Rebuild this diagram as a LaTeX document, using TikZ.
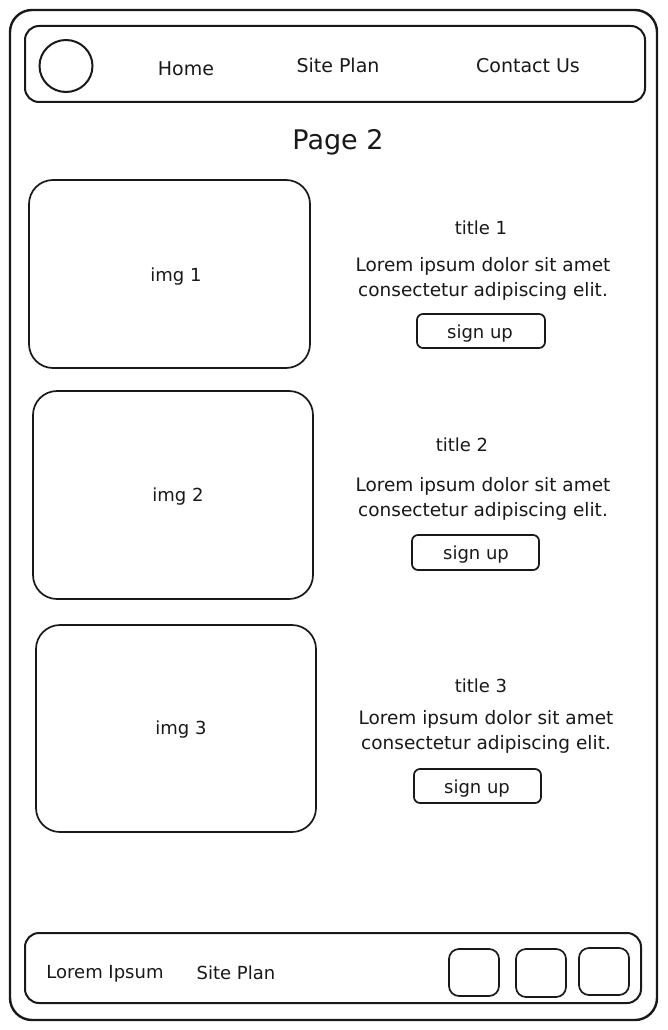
\documentclass[tikz,border=0pt]{standalone}
\usepackage{fontspec}
\setmainfont{DejaVu Sans}
\usetikzlibrary{shapes.geometric}
\begin{document}
\begin{tikzpicture}[x=1pt,y=-1pt,
  frame/.style={draw=black!90,line width=2.4pt,rounded corners=22pt},
  bar/.style={draw=black!90,line width=2pt,rounded corners=14pt},
  imgbox/.style={draw=black!90,line width=1.7pt,rounded corners=24pt},
  btn/.style={draw=black!90,line width=1.7pt,rounded corners=6pt},
  sq/.style={draw=black!90,line width=1.7pt,rounded corners=10pt},
  lbl/.style={font=\fontsize{18}{20}\selectfont,text=black!90},
  nav/.style={font=\fontsize{19}{20}\selectfont,text=black!90},
  body/.style={font=\fontsize{18.5}{25}\selectfont,text=black!90,align=center}]
\useasboundingbox (0,0) rectangle (667,1030);
\fill[white] (0,0) rectangle (667,1030);
% outer frame
\draw[frame] (10,10) rectangle (657,1020);
% nav bar
\draw[bar] (25,26) rectangle (645,102);
\node[draw=black!90,line width=2pt,ellipse,minimum width=53pt,minimum height=52pt,inner sep=0pt] (logo) at (66,66) {};
\node[nav] (home) at (186,69) {Home};
\node[nav] (siteplan) at (338,65) {Site Plan};
\node[nav] (contact) at (528,66) {Contact Us};
% page title
\node[font=\fontsize{27}{30}\selectfont,text=black!90] (page) at (338,142) {Page 2};
% row 1
\draw[imgbox] (29,180) rectangle (310,368);
\node[lbl] (img1) at (176,276.5) {img 1};
\node[lbl] (t1) at (481,228) {title 1};
\node[body] (b1) at (483,279) {Lorem ipsum dolor sit amet\\consectetur adipiscing elit.};
\draw[btn] (417,314) rectangle (545,348);
\node[lbl] (s1) at (480,333.5) {sign up};
% row 2
\draw[imgbox] (33,391) rectangle (313,599);
\node[lbl] (img2) at (178,496.5) {img 2};
\node[lbl] (t2) at (462,445) {title 2};
\node[body] (b2) at (483,499) {Lorem ipsum dolor sit amet\\consectetur adipiscing elit.};
\draw[btn] (412,535) rectangle (539,570);
\node[lbl] (s2) at (476,554.5) {sign up};
% row 3
\draw[imgbox] (36,625) rectangle (316,832);
\node[lbl] (img3) at (181,729.5) {img 3};
\node[lbl] (t3) at (481,686) {title 3};
\node[body] (b3) at (486,732) {Lorem ipsum dolor sit amet\\consectetur adipiscing elit.};
\draw[btn] (414,769) rectangle (541,803);
\node[lbl] (s3) at (477,788.5) {sign up};
% footer
\draw[bar] (25,933) rectangle (641,1003);
\node[lbl] (fl) at (105,974) {Lorem Ipsum};
\node[lbl] (fs) at (236,973) {Site Plan};
\draw[sq] (449,949) rectangle (499,996);
\draw[sq] (516,949) rectangle (566,997);
\draw[sq] (579,948) rectangle (629,995);
\end{tikzpicture}
\end{document}
